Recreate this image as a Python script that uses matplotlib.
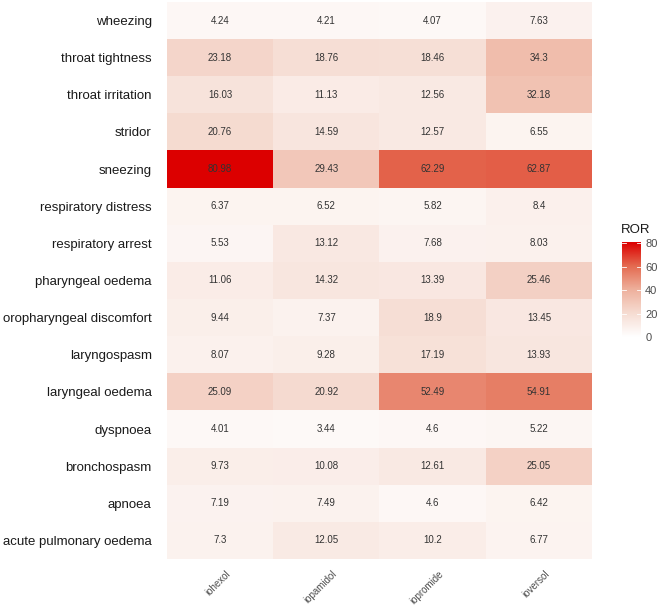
import numpy as np
import matplotlib.pyplot as plt
from matplotlib.colors import LinearSegmentedColormap

plt.rcParams["font.family"] = ["Liberation Sans", "DejaVu Sans"]

# Reporting odds ratios per symptom (rows, top to bottom) and contrast agent (columns)
symptoms = ["wheezing", "throat tightness", "throat irritation", "stridor", "sneezing",
            "respiratory distress", "respiratory arrest", "pharyngeal oedema",
            "oropharyngeal discomfort", "laryngospasm", "laryngeal oedema", "dyspnoea",
            "bronchospasm", "apnoea", "acute pulmonary oedema"]
agents = ["iohexol", "iopamidol", "iopromide", "ioversol"]

iohexol = [4.24, 23.18, 16.03, 20.76, 80.98, 6.37, 5.53, 11.06, 9.44, 8.07, 25.09, 4.01, 9.73, 7.19, 7.3]
iopamidol = [4.21, 18.76, 11.13, 14.59, 29.43, 6.52, 13.12, 14.32, 7.37, 9.28, 20.92, 3.44, 10.08, 7.49, 12.05]
iopromide = [4.07, 18.46, 12.56, 12.57, 62.29, 5.82, 7.68, 13.39, 18.9, 17.19, 52.49, 4.6, 12.61, 4.6, 10.2]
ioversol = [7.63, 34.3, 32.18, 6.55, 62.87, 8.4, 8.03, 25.46, 13.45, 13.93, 54.91, 5.22, 25.05, 6.42, 6.77]

cbar_ticks = [0, 20, 40, 60, 80]

values = np.column_stack([iohexol, iopamidol, iopromide, ioversol])
vmax = values.max()

# white -> red, roughly like ggplot's Lab interpolation
cmap = LinearSegmentedColormap.from_list(
    "ror", [(0.0, "#ffffff"), (0.25, "#f6dcd2"), (0.5, "#eeb09c"),
            (0.75, "#e46a50"), (1.0, "#dc0000")])

fig = plt.figure(figsize=(6.58, 6.06), dpi=100)
W, H = 658, 606
ax = fig.add_axes([167 / W, 1 - 559 / H, (592 - 167) / W, (559 - 2) / H])

ax.imshow(values, cmap=cmap, vmin=0, vmax=vmax, aspect="auto", interpolation="nearest")

for i in range(len(symptoms)):
    for j in range(len(agents)):
        ax.text(j, i, f"{values[i, j]:g}", ha="center", va="center",
                fontsize=7, color="#333333")

ax.set_yticks(range(len(symptoms)))
ax.set_yticklabels(symptoms, fontsize=9.5, color="#1a1a1a")
ax.tick_params(axis="y", length=0, pad=11)
ax.set_xticks([])
for s in ax.spines.values():
    s.set_visible(False)

# rotated agent labels under the columns
for j, name in enumerate(agents):
    ax.annotate(name, xy=(j, 0), xycoords=("data", "axes fraction"),
                xytext=(4, -7), textcoords="offset points", fontsize=7,
                color="#4d4d4d", rotation=45, ha="right", va="top",
                rotation_mode="anchor", annotation_clip=False)

# colourbar legend
cax = fig.add_axes([622 / W, 1 - 337 / H, (641 - 622) / W, (337 - 242) / H])
grad = np.linspace(0, vmax, 200).reshape(-1, 1)
cax.imshow(grad, cmap=cmap, vmin=0, vmax=vmax, aspect="auto", origin="lower",
           extent=[0, 1, 0, vmax])
cax.set_xticks([])
cax.set_yticks(cbar_ticks)
cax.yaxis.tick_right()
cax.set_yticklabels([str(t) for t in cbar_ticks], fontsize=8, color="#4d4d4d")
cax.tick_params(axis="y", length=0, pad=3)
for t in cbar_ticks:
    cax.plot([0, 0.2], [t, t], color="white", lw=0.6)
    cax.plot([0.8, 1], [t, t], color="white", lw=0.6)
cax.set_xlim(0, 1)
cax.set_ylim(0, vmax)
for s in cax.spines.values():
    s.set_visible(False)
fig.text(621 / W, 1 - 230 / H, "ROR", fontsize=9.5, color="#1a1a1a", ha="left", va="center")

fig.savefig("out.png", dpi=100)
